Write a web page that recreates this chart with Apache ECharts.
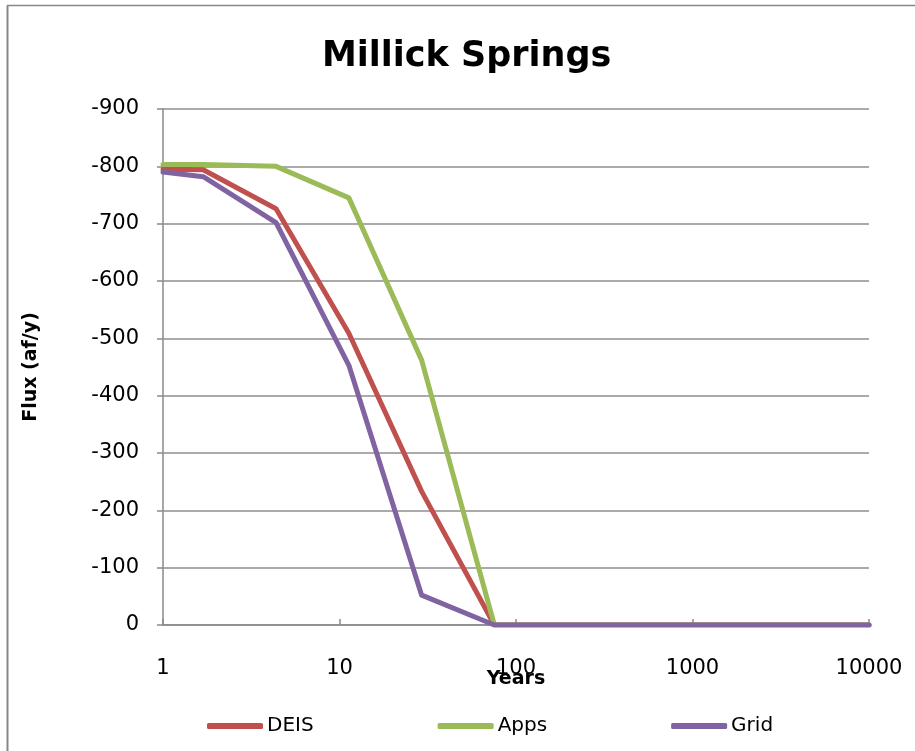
<!DOCTYPE html>
<html>
<head>
<meta charset="utf-8">
<script src="https://cdn.jsdelivr.net/npm/echarts@6/dist/echarts.min.js"></script>
<style>
html,body{margin:0;padding:0;background:#fff;}
#chart{width:915px;height:751px;}
</style>
</head>
<body>
<div id="chart"></div>
<script>
// Data
const years = [1, 1.69, 4.37, 11.3, 29.2, 75.4, 10000];
const deis = [-795, -794, -726, -509, -233, 0, 0];
const apps = [-803, -803, -800, -745, -462, 0, 0];
const grid = [-790, -782, -702, -453, -52, 0, 0];
const seriesNames = ['DEIS', 'Apps', 'Grid'];
const xTicks = [1, 10, 100, 1000, 10000];
const yTicks = [-900, -800, -700, -600, -500, -400, -300, -200, -100, 0];

const colors = ['#C0504D', '#9BBB59', '#8064A2'];
const pairs = arr => years.map((x, i) => [x, arr[i]]);
const font = 'DejaVu Sans';

const chart = echarts.init(document.getElementById('chart'), null, {renderer: 'canvas'});
chart.setOption({
  animation: false,
  backgroundColor: '#ffffff',
  title: {
    text: 'Millick Springs',
    left: 322,
    top: 39,
    padding: 0,
    textStyle: {fontFamily: font, fontWeight: 'bold', fontSize: 35, color: '#000'}
  },
  graphic: [
    {type: 'line', shape: {x1: 7.5, y1: 5.5, x2: 7.5, y2: 760}, style: {stroke: '#878787', lineWidth: 2}},
    {type: 'line', shape: {x1: 7, y1: 5.5, x2: 920, y2: 5.5}, style: {stroke: '#878787', lineWidth: 1.5}}
  ],
  legend: {
    data: seriesNames,
    left: 207,
    top: 716,
    padding: 0,
    itemWidth: 56,
    itemHeight: 6,
    itemGap: 124,
    icon: 'roundRect',
    textStyle: {fontFamily: font, fontSize: 20, color: '#000', padding: [0, 0, 0, -1]}
  },
  grid: {left: 163, right: 46, top: 109, bottom: 126},
  xAxis: {
    type: 'log',
    logBase: 10,
    min: 1,
    max: 10000,
    name: 'Years',
    nameLocation: 'middle',
    nameGap: 45,
    nameMoveOverlap: false,
    nameTextStyle: {fontFamily: font, fontWeight: 'bold', fontSize: 19, color: '#000'},
    axisLine: {show: true, lineStyle: {color: '#8a8a8a', width: 1.5}},
    axisTick: {show: true, inside: true, length: 6, lineStyle: {color: '#8a8a8a', width: 1.5}},
    axisLabel: {
      fontFamily: font, fontSize: 21, color: '#000', margin: 33,
      formatter: v => (xTicks.indexOf(Math.round(v)) >= 0 ? String(Math.round(v)) : '')
    },
    splitLine: {show: false},
    minorTick: {show: false}
  },
  yAxis: {
    type: 'value',
    min: -900,
    max: 0,
    interval: 100,
    inverse: true,
    name: 'Flux (af/y)',
    nameLocation: 'middle',
    nameGap: 122,
    nameTextStyle: {fontFamily: font, fontWeight: 'bold', fontSize: 19, color: '#000'},
    axisLine: {show: true, lineStyle: {color: '#8a8a8a', width: 1.5}},
    axisTick: {show: true, inside: false, length: 6, lineStyle: {color: '#8a8a8a', width: 1.5}},
    axisLabel: {
      fontFamily: font, fontSize: 21, color: '#000', margin: 24,
      formatter: v => (yTicks.indexOf(v) >= 0 ? String(v) : '')
    },
    splitLine: {show: true, lineStyle: {color: '#8e8e8e', width: 1.5}}
  },
  series: [
    {name: seriesNames[0], type: 'line', data: pairs(deis), showSymbol: false, symbol: 'none',
     lineStyle: {color: colors[0], width: 5, cap: 'round', join: 'round'}, itemStyle: {color: colors[0]}},
    {name: seriesNames[1], type: 'line', data: pairs(apps), showSymbol: false, symbol: 'none',
     lineStyle: {color: colors[1], width: 5, cap: 'round', join: 'round'}, itemStyle: {color: colors[1]}},
    {name: seriesNames[2], type: 'line', data: pairs(grid), showSymbol: false, symbol: 'none',
     lineStyle: {color: colors[2], width: 5, cap: 'round', join: 'round'}, itemStyle: {color: colors[2]}}
  ]
});
</script>
</body>
</html>
